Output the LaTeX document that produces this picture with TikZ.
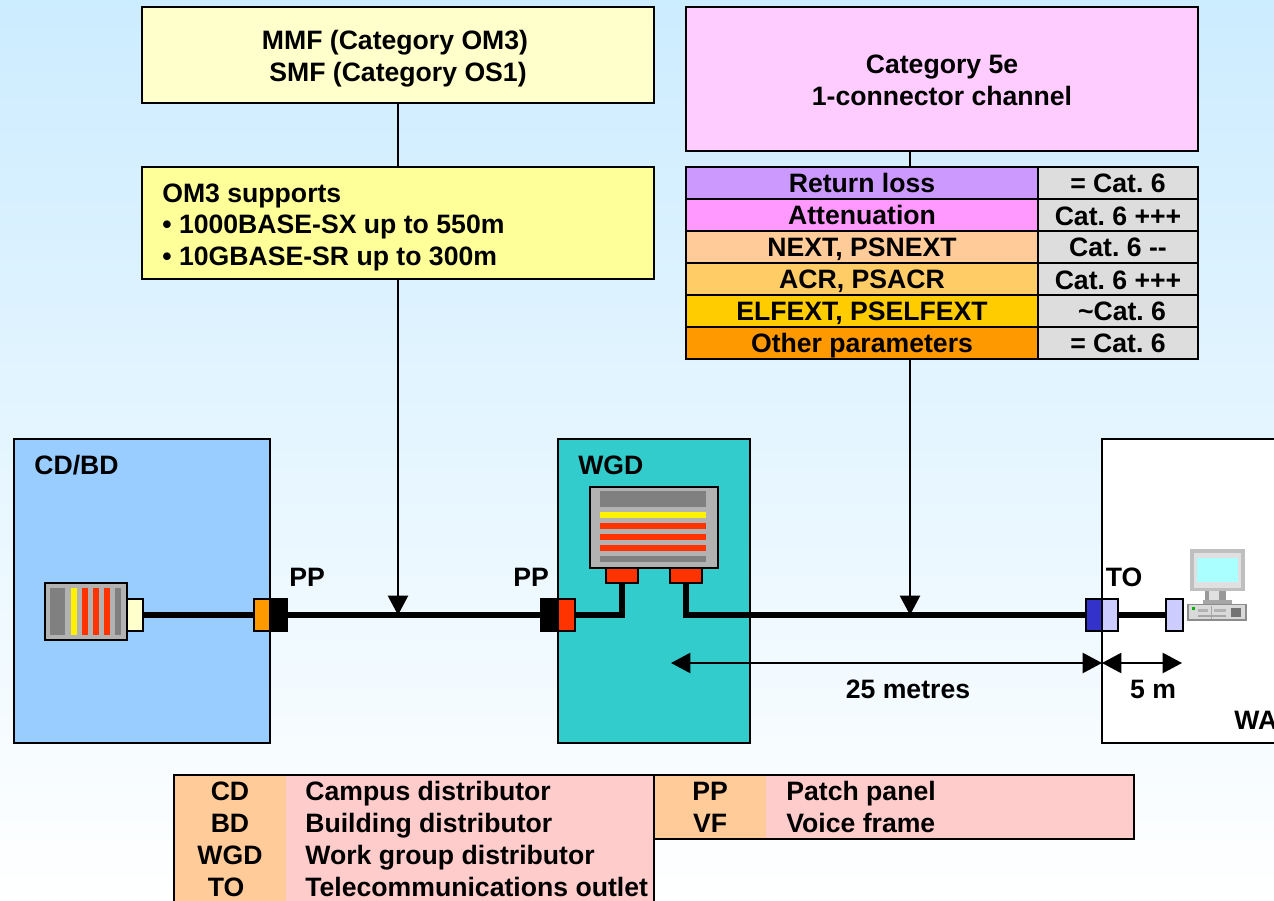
\documentclass[tikz,border=0pt]{standalone}
\usepackage{xcolor}
\usepackage{fontspec}
\setmainfont{Liberation Sans}
\usetikzlibrary{arrows.meta,calc,fit}
\frenchspacing

\definecolor{bgtop}{HTML}{CCECFF}
\definecolor{mmfc}{HTML}{FFFFCC}
\definecolor{omc}{HTML}{FFFF99}
\definecolor{catc}{HTML}{FFCCFF}
\definecolor{rlc}{HTML}{CC99FF}
\definecolor{attc}{HTML}{FF99FF}
\definecolor{nextc}{HTML}{FFCC99}
\definecolor{acrc}{HTML}{FFCC66}
\definecolor{elfc}{HTML}{FFCC00}
\definecolor{otherc}{HTML}{FF9900}
\definecolor{valc}{HTML}{DDDDDD}
\definecolor{cdc}{HTML}{99CCFF}
\definecolor{wgdc}{HTML}{33CCCC}
\definecolor{redc}{HTML}{FF3300}
\definecolor{lilac}{HTML}{CCCCFF}
\definecolor{toc}{HTML}{3333CC}
\definecolor{pinkc}{HTML}{FFCCCC}
\definecolor{devc}{HTML}{B2B2B2}
\definecolor{barc}{HTML}{808080}
\definecolor{screenc}{HTML}{AAFFFF}

\begin{document}
\begin{tikzpicture}[x=0.02cm,y=-0.02cm,arrow/.style = {line width=0.9pt,-{Triangle[length=11pt,width=11.5pt]}}]
		\tikzset{box/.style={inner sep=0pt, draw=black, line width=1pt, text centered, font=\bfseries\fontsize{15.15}{18}\selectfont, align=center}}
		\tikzset{lab/.style={inner sep=0pt, yshift=-1.1pt, font=\bfseries\fontsize{15.15}{18}\selectfont, text height=11pt, text depth=3pt}}
		\tikzset{cable/.style={line width=3.4pt}}
		\tikzset{link/.style={line width=0.9pt}}

		% Background
		\useasboundingbox (0,0) rectangle (1274,901);
		\shade[top color=bgtop, bottom color=white] (0,0) rectangle (1274,901);

		% Areas
		\node[fit={(14,439) (270,743)}, box, fill=cdc] (cd) {};
		\node[fit={(558,439) (750,743)}, box, fill=wgdc] (wgd) {};
		\node[fit={(1102,439) (1300,743)}, box, fill=white] (wa) {};

		\node[lab, anchor=west] (cdlab) at (34,466) {CD/BD};
		\node[lab, anchor=west] (wgdlab) at (578,466) {WGD};
		\node[lab, anchor=west] (walab) at (1234,721) {WA};

		% Top boxes
		\node[fit={(142,7) (654,103)}, box, fill=mmfc] (mmf) {};
		\node[box, draw=none, anchor=center] (mmftxt) at (398,58.5) {MMF (Category OM3)\hspace*{3.4pt}\\ SMF (Category OS1)};

		\node[fit={(142,167) (654,279)}, box, fill=omc] (om3) {};
		\node[lab, anchor=west, align=left, text height=, text depth=] (om3txt) at (162,225.5) {OM3 supports\\ • 1000BASE-SX up to 550m\\ • 10GBASE-SR up to 300m};

		\node[fit={(686,7) (1198,151)}, box, fill=catc] (cat) {};
		\node[box, draw=none, anchor=center] (cattxt) at (942,80.5) {Category 5e\\ 1-connector channel};

		% Parameter table
		\node[fit={(686,167) (1038,199)}, box, fill=rlc] (rl) {};
		\node[fit={(686,199) (1038,231)}, box, fill=attc] (att) {};
		\node[fit={(686,231) (1038,263)}, box, fill=nextc] (next) {};
		\node[fit={(686,263) (1038,295)}, box, fill=acrc] (acr) {};
		\node[fit={(686,295) (1038,327)}, box, fill=elfc] (elf) {};
		\node[fit={(686,327) (1038,359)}, box, fill=otherc] (other) {};

		\node[fit={(1038,167) (1198,199)}, box, fill=valc] (rlval) {};
		\node[fit={(1038,199) (1198,231)}, box, fill=valc] (attval) {};
		\node[fit={(1038,231) (1198,263)}, box, fill=valc] (nextval) {};
		\node[fit={(1038,263) (1198,295)}, box, fill=valc] (acrval) {};
		\node[fit={(1038,295) (1198,327)}, box, fill=valc] (elfval) {};
		\node[fit={(1038,327) (1198,359)}, box, fill=valc] (otherval) {};

		\node[lab] (rltxt) at (862,184) {Return loss};
		\node[lab] (atttxt) at (862,216) {Attenuation};
		\node[lab] (nexttxt) at (862,248) {NEXT, PSNEXT};
		\node[lab] (acrtxt) at (862,280) {ACR, PSACR};
		\node[lab] (elftxt) at (862,312) {ELFEXT, PSELFEXT};
		\node[lab] (othertxt) at (862,344) {Other parameters};

		\node[lab] (rlvaltxt) at (1118,184) {= Cat. 6};
		\node[lab] (attvaltxt) at (1118,216.5) {Cat. 6 +++};
		\node[lab] (nextvaltxt) at (1118,248) {Cat. 6 -{}-};
		\node[lab] (acrvaltxt) at (1118,280.5) {Cat. 6 +++};
		\node[lab] (elfvaltxt) at (1122,312) {\textasciitilde Cat. 6};
		\node[lab] (othervaltxt) at (1118,344) {= Cat. 6};

		% Links from the boxes
		\coordinate (fibredrop) at (398,615);
		\coordinate (copperdrop) at (910,615);

		\draw [link] (mmf) -- (om3);
		\draw [link] (cat.south -| copperdrop) -- (rl.north -| copperdrop);

		% Cables
		\node[fit={(127,599) (143,631)}, box, fill=mmfc] (cdplug) {};
		\node[fit={(254,599) (270,631)}, box, fill=otherc] (ppa) {};
		\node[fit={(270,599) (287,631)}, box, fill=black] (ppb) {};
		\node[fit={(541,599) (558,631)}, box, fill=black] (ppc) {};
		\node[fit={(558,599) (575,631)}, box, fill=redc] (ppd) {};
		\node[fit={(606,568) (638,583)}, box, fill=redc] (porta) {};
		\node[fit={(670,568) (702,583)}, box, fill=redc] (portb) {};
		\node[fit={(1086,599) (1102,631)}, box, fill=toc] (toa) {};
		\node[fit={(1102,599) (1118,631)}, box, fill=lilac] (tob) {};
		\node[fit={(1166,599) (1183,631)}, box, fill=lilac] (wsplug) {};

		\draw [cable] (cdplug) -- (ppa);
		\draw [cable] (ppb) -- (ppc);
		\draw [cable] (ppd.east) -| (porta.south);
		\draw [cable] (portb.south) |- (toa.west);
		\draw [cable] (tob) -- (wsplug);

		\draw [arrow] (om3.south -| fibredrop) -- (fibredrop);
		\draw [arrow] (other.south -| copperdrop) -- (copperdrop);

		% Switch at CD/BD
		\node[fit={(45,583) (127,640)}, box, fill=devc] (cdsw) {};
		\fill[barc] (50,588) rectangle (65,635);
		\fill[yellow] (71,588) rectangle (77,635);
		\fill[redc] (82,588) rectangle (88,635);
		\fill[redc] (93,588) rectangle (99,635);
		\fill[redc] (104,588) rectangle (110,635);
		\fill[barc] (115,588) rectangle (121,635);

		% Switch at WGD
		\node[fit={(590,487) (718,568)}, box, fill=devc] (wgdsw) {};
		\fill[barc] (600,491) rectangle (706,507);
		\fill[yellow] (600,512) rectangle (706,518);
		\fill[redc] (600,523) rectangle (706,529);
		\fill[redc] (600,534) rectangle (706,540);
		\fill[redc] (600,545) rectangle (706,551);
		\fill[barc] (600,556) rectangle (706,562);

		% Computer
		\fill[black!25] (1190,549) rectangle (1245,591);
		\fill[black!12] (1194,553) rectangle (1241,588);
		\fill[screenc] (1197,558) rectangle (1238,582);
		\fill[black!40] (1205,591) rectangle (1226,600);
		\fill[black!12] (1209,591) rectangle (1219,600);
		\fill[black!35] (1203,600) rectangle (1232,604);
		\fill[black!45] (1187,604) rectangle (1247,621);
		\fill[black!15] (1189,605) rectangle (1245,619);
		\fill[green!70!black] (1192,607) rectangle (1195,610);
		\fill[black!30] (1198,609) rectangle (1208,612);
		\fill[black!35] (1211,606) rectangle (1212,619);
		\fill[black!30] (1214,609) rectangle (1226,612);
		\fill[black!55] (1231,608) rectangle (1241,617);
		\fill[black!35] (1198,615) rectangle (1226,617);

		% Labels
		\node[lab] (ppleft) at (307,578) {PP};
		\node[lab] (ppright) at (531,578) {PP};
		\node[lab] (tolab) at (1124,578) {TO};

		% Distances
		\coordinate (dimleft) at (671,663);
		\coordinate (dimmid) at (1102,663);
		\coordinate (dimright) at (1182,663);

		\draw [arrow, {Triangle[length=11pt,width=11.5pt]}-{Triangle[length=11pt,width=11.5pt]}] (dimleft) -- (dimmid);
		\draw [arrow, {Triangle[length=11pt,width=11.5pt]}-{Triangle[length=11pt,width=11.5pt]}] (dimmid) -- (dimright);

		\node[lab] (longdim) at (908,690) {25 metres};
		\node[lab] (shortdim) at (1153,690) {5 m};

		% Legend
		\node[fit={(174,775) (286,905)}, inner sep=0pt, fill=nextc] (legabbr) {};
		\node[fit={(286,775) (654,905)}, inner sep=0pt, fill=pinkc] (legtext) {};
		\node[fit={(174,775) (654,905)}, box] (legleft) {};
		\node[fit={(654,775) (766,839)}, inner sep=0pt, fill=nextc] (legabbrb) {};
		\node[fit={(766,775) (1134,839)}, inner sep=0pt, fill=pinkc] (legtextb) {};
		\node[fit={(654,775) (1134,839)}, box] (legright) {};

		\node[lab] (cdabbr) at (230,792) {CD};
		\node[lab] (bdabbr) at (230,824) {BD};
		\node[lab] (wgdabbr) at (230,856) {WGD};
		\node[lab] (toabbr) at (226,888) {TO};
		\node[lab, anchor=west] (cdname) at (305,792) {Campus distributor};
		\node[lab, anchor=west] (bdname) at (305,824) {Building distributor};
		\node[lab, anchor=west] (wgdname) at (305,856) {Work group distributor};
		\node[lab, anchor=west] (toname) at (305,888) {Telecommunications outlet};

		\node[lab] (ppabbr) at (710,792) {PP};
		\node[lab] (vfabbr) at (710,824) {VF};
		\node[lab, anchor=west] (ppname) at (786,792) {Patch panel};
		\node[lab, anchor=west] (vfname) at (786,824) {Voice frame};

	\end{tikzpicture}
\end{document}
